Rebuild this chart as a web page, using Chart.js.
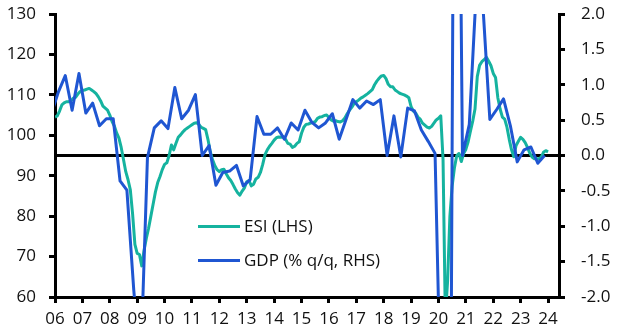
<!DOCTYPE html>
<html>
<head>
<meta charset="utf-8">
<script src="https://cdn.jsdelivr.net/npm/chart.js@4.4.1/dist/chart.umd.min.js"></script>
<style>
  html, body { margin: 0; padding: 0; background: #fff; }
  #wrap { width: 618px; height: 336px; position: relative; }
</style>
</head>
<body>
<div id="wrap"><canvas id="myChart"></canvas></div>
<script>
// ESI (LHS), monthly from Jan 2006 to Jan 2024
const esiStart = 2006;
const esi = [
  104.5, 104.8, 106.0, 107.5, 108.0, 108.3, 108.3, 108.5, 109.2, 109.4, 110.2, 110.8, // 06
  111.1, 111.2, 111.4, 111.6, 111.2, 110.8, 110.3, 109.5, 108.5, 107.2, 106.7, 106.2, // 07
  105.0, 103.4, 102.3, 100.6, 99.3, 97.0, 94.0, 91.0, 89.0, 86.5, 80.5, 73.0,         // 08
  70.8, 70.5, 67.7, 71.5, 74.5, 77.0, 80.0, 83.0, 86.0, 88.3, 89.8, 91.5,             // 09
  92.8, 93.2, 95.0, 97.6, 96.4, 98.0, 99.5, 100.1, 100.8, 101.4, 101.8, 102.2,        // 10
  102.6, 103.0, 103.1, 102.7, 102.0, 101.7, 101.4, 99.0, 96.0, 94.0, 92.5, 91.5,      // 11
  91.0, 91.5, 91.6, 90.5, 89.5, 88.8, 87.8, 86.7, 85.8, 85.2, 86.2, 87.0,             // 12
  88.5, 88.8, 87.5, 87.9, 89.2, 89.6, 90.8, 92.8, 95.2, 96.4, 97.3, 98.0,             // 13
  98.8, 99.4, 99.6, 99.5, 99.7, 99.0, 98.0, 97.8, 97.0, 97.3, 98.0, 98.4,             // 14
  100.5, 102.0, 102.7, 102.8, 103.0, 103.2, 103.4, 104.2, 104.5, 104.6, 104.9, 105.0, // 15
  104.4, 103.8, 103.5, 103.6, 103.4, 103.3, 103.6, 104.3, 105.3, 106.2, 106.9, 107.8, // 16
  108.3, 108.7, 109.2, 109.5, 109.9, 110.3, 110.8, 111.3, 112.5, 113.4, 114.1, 114.7, // 17
  114.8, 114.0, 112.6, 112.0, 112.0, 111.2, 110.8, 110.4, 110.2, 110.0, 109.7, 109.3, // 18
  107.1, 106.0, 105.5, 104.5, 104.0, 103.0, 102.5, 102.0, 101.8, 102.2, 103.0, 103.8, // 19
  104.2, 104.8, 94.0, 55.0, 64.0, 80.0, 87.5, 92.0, 95.0, 95.5, 93.5, 95.5,           // 20
  96.5, 98.4, 101.0, 103.5, 106.5, 114.5, 117.3, 118.2, 118.7, 119.3, 118.3, 117.2,   // 21
  115.3, 114.3, 109.3, 106.5, 104.5, 104.0, 102.0, 99.0, 96.4, 94.7, 97.5, 98.5,      // 22
  99.5, 99.0, 98.2, 97.0, 95.6, 94.6, 94.2, 94.2, 94.2, 94.6, 95.8, 96.2,             // 23
  95.9                                                                                 // 24
];

// GDP (% q/q, RHS), quarterly from Q4 2005 to Q4 2023
const gdpStart = 2005.75;
const gdp = [
  0.6,                       // 05 Q4
  0.9, 1.13, 0.64, 1.16,     // 06
  0.60, 0.74, 0.42, 0.52,    // 07
  0.52, -0.36, -0.49, -1.9,  // 08
  -3.0, -0.03, 0.39, 0.49,   // 09
  0.38, 0.96, 0.52, 0.64,    // 10
  0.86, 0.0, 0.14, -0.42,    // 11
  -0.24, -0.22, -0.14, -0.43,// 12
  -0.34, 0.55, 0.30, 0.30,   // 13
  0.39, 0.23, 0.46, 0.36,    // 14
  0.64, 0.47, 0.39, 0.46,    // 15
  0.59, 0.23, 0.51, 0.79,    // 16
  0.67, 0.77, 0.72, 0.79,    // 17
  0.0, 0.56, -0.02, 0.67,    // 18
  0.63, 0.36, 0.20, 0.03,    // 19
  -4.2, -10.0, 10.5, 0.0,    // 20
  0.44, 2.3, 2.1, 0.51,      // 21
  0.65, 0.80, 0.42, -0.09,   // 22
  0.08, 0.12, -0.11, 0.0     // 23
];

const yearLabels = ['06','07','08','09','10','11','12','13','14','15','16','17','18','19','20','21','22','23','24'];
const leftTicks = [60, 130, 10];     // min, max, step
const rightTicks = [-2, 2, 0.5];

const esiPoints = esi.map((v, i) => ({ x: esiStart + i / 12, y: v }));
const gdpPoints = gdp.map((v, i) => ({ x: gdpStart + i / 4 + 0.125, y: v }));

const TEAL = '#15b39f';
const BLUE = '#1f56d2';
const font = { family: "'Open Sans', sans-serif", size: 17 };

// legend drawn inside the plot, two rows
const innerLegend = {
  id: 'innerLegend',
  afterDatasetsDraw(chart) {
    const ctx = chart.ctx, a = chart.chartArea;
    ctx.save();
    ctx.font = font.size + 'px ' + font.family;
    ctx.textBaseline = 'middle';
    ctx.fillStyle = '#111';
    chart.data.datasets.forEach((ds, i) => {
      const y = a.top + 212.5 + i * 34;
      ctx.strokeStyle = ds.borderColor;
      ctx.lineWidth = 3;
      ctx.beginPath();
      ctx.moveTo(a.left + 143, y);
      ctx.lineTo(a.left + 185, y);
      ctx.stroke();
      ctx.fillText(ds.label, a.left + 189, y + 1);
    });
    ctx.restore();
  }
};

const axisGrid = {
  drawOnChartArea: false,
  tickLength: 6,
  tickWidth: 3,
  tickColor: '#000'
};

// fixed axis sizes so the plot area sits where the original has it
const fixWidth = (w) => (s) => { s.width = w; s.paddingTop = 0; s.paddingBottom = 0; };

const config = {
  type: 'line',
  data: {
    datasets: [
      { label: 'ESI (LHS)', data: esiPoints, yAxisID: 'y', borderColor: TEAL, borderWidth: 3, order: 2 },
      { label: 'GDP (% q/q, RHS)', data: gdpPoints, yAxisID: 'y1', borderColor: BLUE, borderWidth: 3, order: 1 }
    ]
  },
  options: {
    responsive: true,
    maintainAspectRatio: false,
    animation: false,
    layout: { padding: { top: 14, left: 0, right: 0, bottom: 0 } },
    elements: { point: { radius: 0 }, line: { tension: 0, borderJoinStyle: 'round' } },
    plugins: { legend: { display: false }, tooltip: { enabled: false } },
    scales: {
      x: {
        type: 'linear',
        min: 2006,
        max: 2024.4,
        ticks: {
          stepSize: 1, includeBounds: false, autoSkip: false, maxRotation: 0,
          color: '#111', font, padding: 6,
          callback: (v) => yearLabels[Math.round(v - 2006)]
        },
        grid: axisGrid,
        border: { color: '#000', width: 3 },
        afterFit: (s) => { s.height = 39; }
      },
      y: {
        position: 'left',
        min: leftTicks[0], max: leftTicks[1],
        ticks: { stepSize: leftTicks[2], color: '#111', font, padding: 13 },
        grid: axisGrid,
        border: { color: '#000', width: 3 },
        afterFit: fixWidth(55)
      },
      y1: {
        position: 'right',
        min: rightTicks[0], max: rightTicks[1],
        ticks: { stepSize: rightTicks[2], color: '#111', font, padding: 16,
                 callback: (v) => v.toFixed(1) },
        grid: {
          drawOnChartArea: true,
          color: (c) => (c.tick && c.tick.value === 0 ? '#000' : 'rgba(0,0,0,0)'),
          lineWidth: 3,
          tickLength: 6,
          tickWidth: 3,
          tickColor: '#000'
        },
        border: { color: '#000', width: 3 },
        afterFit: fixWidth(59)
      }
    }
  },
  plugins: [innerLegend]
};

let myChart = new Chart(document.getElementById('myChart'), config);
</script>
</body>
</html>
